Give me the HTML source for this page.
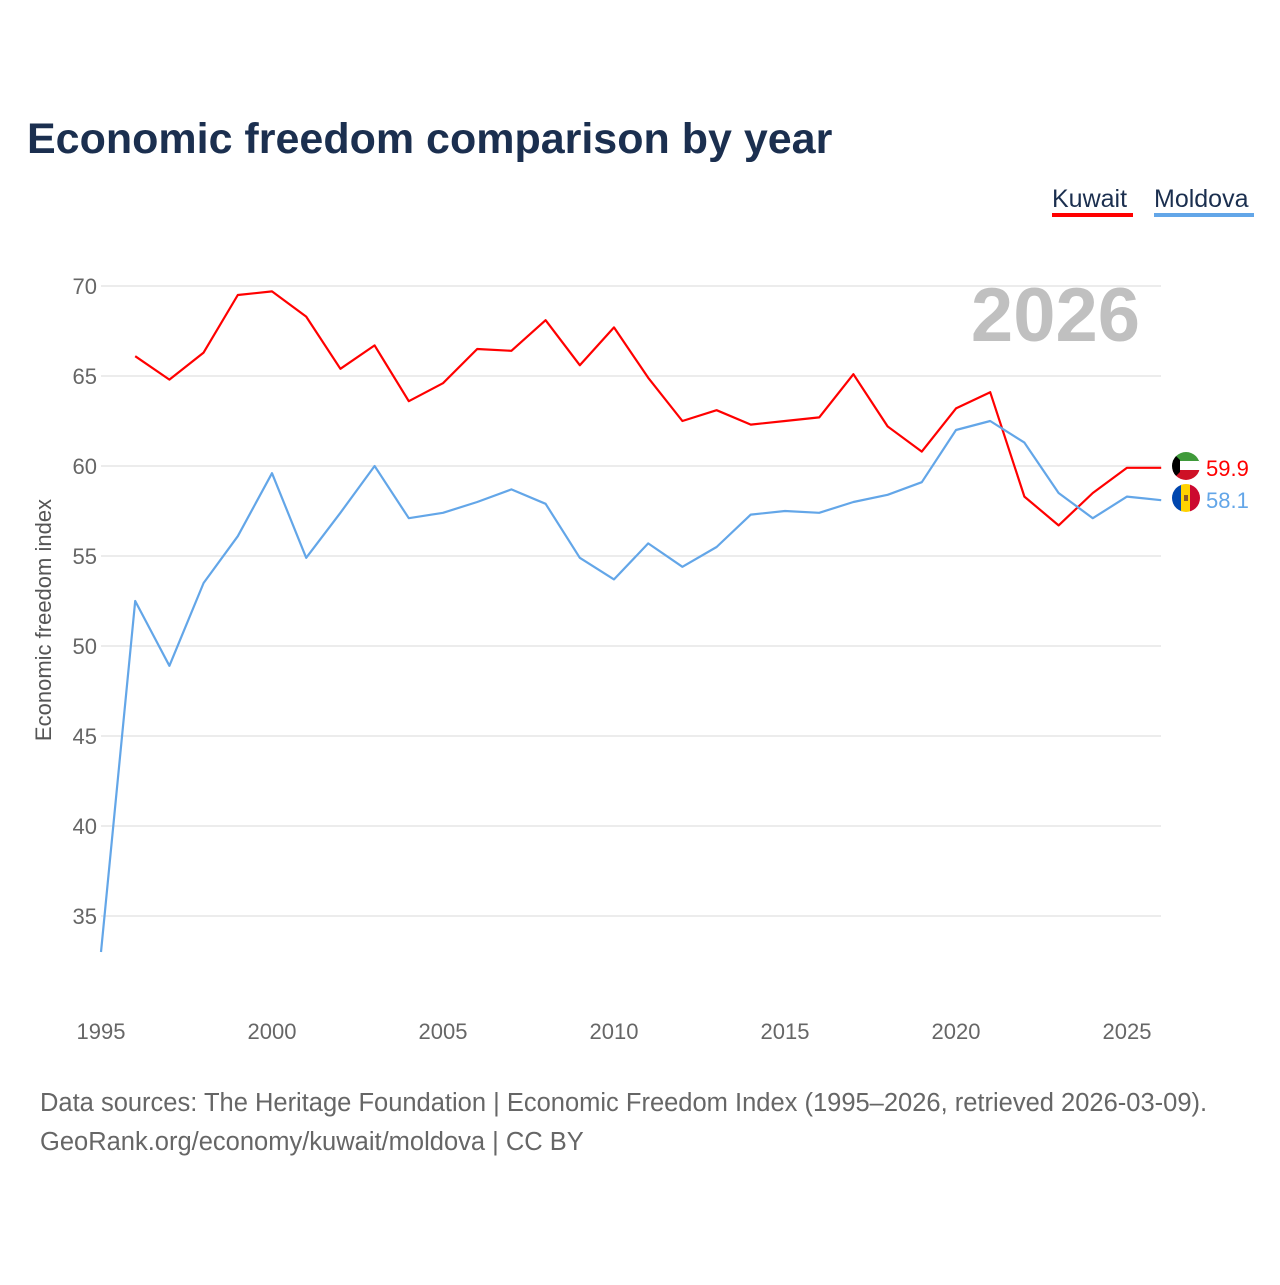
<!DOCTYPE html>
<html><head><meta charset="utf-8"><style>
body{margin:0;background:#fff;font-family:"Liberation Sans",sans-serif;}
svg text{font-family:"Liberation Sans",sans-serif;}
</style></head><body>
<svg width="1280" height="1280" viewBox="0 0 1280 1280">
<defs>
<clipPath id="ck"><circle cx="1186" cy="466" r="14"/></clipPath>
<clipPath id="cm"><circle cx="1186" cy="498" r="14"/></clipPath>
</defs>
<rect width="1280" height="1280" fill="#fff"/>
<text x="27" y="153" font-size="43" font-weight="bold" fill="#1b2f4f">Economic freedom comparison by year</text>
<g>
<text x="1052" y="207" font-size="25" fill="#1b2f4f">Kuwait</text>
<rect x="1052" y="213" width="81" height="4" fill="#ff0000"/>
<text x="1154" y="207" font-size="25" fill="#1b2f4f">Moldova</text>
<rect x="1154" y="213" width="100" height="4" fill="#63a6e8"/>
</g>
<text x="1140" y="341" font-size="76" font-weight="bold" fill="#c0c0c0" text-anchor="end">2026</text>
<g id="grid"></g><g id="xt"></g><g id="lines"></g>
<g clip-path="url(#ck)">
<rect x="1172" y="452" width="28" height="10" fill="#3f9a3a"/>
<rect x="1172" y="461" width="28" height="10" fill="#fff"/>
<rect x="1172" y="470" width="28" height="10" fill="#ce1126"/>
<polygon points="1172,452 1180,460 1180,472 1172,480" fill="#000"/>
</g>
<g clip-path="url(#cm)">
<rect x="1172" y="484" width="10" height="28" fill="#0046ae"/>
<rect x="1181" y="484" width="10" height="28" fill="#ffd200"/>
<rect x="1190" y="484" width="10" height="28" fill="#cc092f"/>
<rect x="1184" y="495" width="4" height="6" fill="#8a5a2a"/>
</g>
<text transform="translate(51,620) rotate(-90)" font-size="22" fill="#555" text-anchor="middle">Economic freedom index</text>
<text x="40" y="1111" font-size="25.5" fill="#666">Data sources: The Heritage Foundation | Economic Freedom Index (1995–2026, retrieved 2026-03-09).</text>
<text x="40" y="1150" font-size="25.5" fill="#666">GeoRank.org/economy/kuwait/moldova | CC BY</text>
</svg>
<script>
const years=[];for(let y=1995;y<=2026;y++)years.push(y);
const kuwait=[null,66.1,64.8,66.3,69.5,69.7,68.3,65.4,66.7,63.6,64.6,66.5,66.4,68.1,65.6,67.7,64.9,62.5,63.1,62.3,62.5,62.7,65.1,62.2,60.8,63.2,64.1,58.3,56.7,58.5,59.9,59.9];
const moldova=[33.0,52.5,48.9,53.5,56.1,59.6,54.9,57.4,60.0,57.1,57.4,58.0,58.7,57.9,54.9,53.7,55.7,54.4,55.5,57.3,57.5,57.4,58.0,58.4,59.1,62.0,62.5,61.3,58.5,57.1,58.3,58.1];
const yTicks=[35,40,45,50,55,60,65,70];
const xTicks=[1995,2000,2005,2010,2015,2020,2025];
const NS="http://www.w3.org/2000/svg";
const X=y=>101+(y-1995)*34.2;
const Y=v=>286+(70-v)*18;
function mk(t,a,p){const e=document.createElementNS(NS,t);for(const k in a)e.setAttribute(k,a[k]);p.appendChild(e);return e;}
const g=document.getElementById('grid');
yTicks.forEach(v=>{
 const l=mk('line',{x1:101,x2:1161,y1:Y(v),y2:Y(v),stroke:'#e6e6e6','stroke-width':1.5},g);
 
 
 const t=mk('text',{x:97,y:Y(v)+8,'font-size':22,fill:'#666','text-anchor':'end'},g);t.textContent=v;
 
 
});
const xt=document.getElementById('xt');
xTicks.forEach(v=>{
 const t=mk('text',{x:X(v),y:1039,'font-size':22,fill:'#666','text-anchor':'middle'},xt);t.textContent=v;
 
 
});
const L=document.getElementById('lines');
function series(d,c,name){
 let p='';d.forEach((v,i)=>{if(v==null)return;p+=(p?'L':'M')+X(years[i])+','+Y(v);});
 const e=mk('path',{d:p,fill:'none',stroke:c,'stroke-width':2.2,'stroke-linejoin':'round'},L);
 
 
 const last=d[d.length-1];
 const t=mk('text',{x:1206,y:Y(last)+8,'font-size':22,fill:c},L);t.textContent=last.toFixed(1);
 
 
}
series(kuwait,'#ff0000','kuwait');
series(moldova,'#63a6e8','moldova');
</script>
</body></html>
